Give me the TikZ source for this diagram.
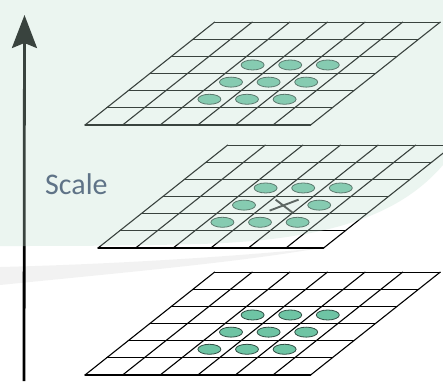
\documentclass[tikz,border=0pt]{standalone}
\usepackage{fontspec}
\newfontfamily\labelfont{Carlito}
\usetikzlibrary{arrows.meta}

\definecolor{tint}{RGB}{192,222,208}
\definecolor{dotfill}{RGB}{110,196,164}
\definecolor{dotline}{RGB}{50,80,70}
\definecolor{labelcol}{RGB}{95,115,135}

% One scale layer: a 6x6 grid drawn in perspective.
% #1,#2: lower-left corner, #3: name prefix for the cell centres
\newcommand\scalelayer[3]{%
  \begin{scope}[shift={(#1,#2)}, x={(37.6pt,0pt)}, y={(21.6pt,17.15pt)}]
    \fill[white] (0,0) -- (6,0) -- (6,6) -- (0,6) -- cycle;
    \foreach \k in {0,...,6} {
      \draw[gridline] (\k,0) -- (\k,6);
      \draw[gridline] (0,\k) -- (6,\k);
    }
    \foreach \i in {2,3,4} {
      \foreach \j in {1,2,3} {
        \coordinate (#3-\i-\j) at (\i+0.5,\j+0.5);
      }
    }
  \end{scope}}

\begin{document}
\begin{tikzpicture}[x=1pt,y=-1pt,
    gridline/.style={line width=1.1pt,black,line cap=round},
    dot/.style={fill=dotfill,draw=dotline,line width=0.8pt},
    cross/.style={line width=1.9pt,black!80}]
  \useasboundingbox (0,0) rectangle (443,381);
  \clip (0,0) rectangle (443,381);
  \fill[white] (0,0) rectangle (443,381);

  % three stacked layers
  \scalelayer{85}{125}{top}
  \scalelayer{98}{248}{mid}
  \scalelayer{85}{375}{bot}

  % neighbourhood samples
  \foreach \i in {2,3,4} {
    \foreach \j in {1,2,3} {
      \draw[dot] ([xshift=-2pt]top-\i-\j) ellipse [x radius=11.5pt, y radius=5pt];
      \draw[dot] ([xshift=-2pt]bot-\i-\j) ellipse [x radius=11.5pt, y radius=5pt];
    }
  }
  \foreach \i/\j in {2/1,3/1,4/1,2/2,4/2,2/3,3/3,4/3} {
    \draw[dot] ([xshift=-2pt]mid-\i-\j) ellipse [x radius=11.5pt, y radius=5pt];
  }
  % the sample under test
  \draw[cross] ([shift={(-14pt,-5.5pt)}]mid-3-2) -- ([shift={(15pt,5.5pt)}]mid-3-2);
  \draw[cross] ([shift={(-8pt,5.5pt)}]mid-3-2) -- ([shift={(9pt,-7.5pt)}]mid-3-2);

  % scale axis
  \coordinate (abase) at (24,381);
  \coordinate (atip) at (24.5,15);
  \draw[line width=2.8pt,-{Stealth[length=33pt,width=25pt,inset=5pt]}] (abase) -- (atip);

  % pale tint over the upper part
  \fill[tint, opacity=0.3] (0,0) -- (443,0) -- (443,165)
    .. controls (400,215) and (330,240) .. (200,244)
    .. controls (120,246) and (60,246) .. (0,246) -- cycle;
  \fill[black, opacity=0.05] (0,267)
    .. controls (120,264) and (240,256) .. (320,248)
    .. controls (240,262) and (130,272) .. (0,285) -- cycle;

  \node[font=\labelfont\fontsize{30}{36}\selectfont, text=labelcol,
        anchor=base west, inner sep=0pt] (scalelabel) at (45,194) {Scale};
\end{tikzpicture}
\end{document}
